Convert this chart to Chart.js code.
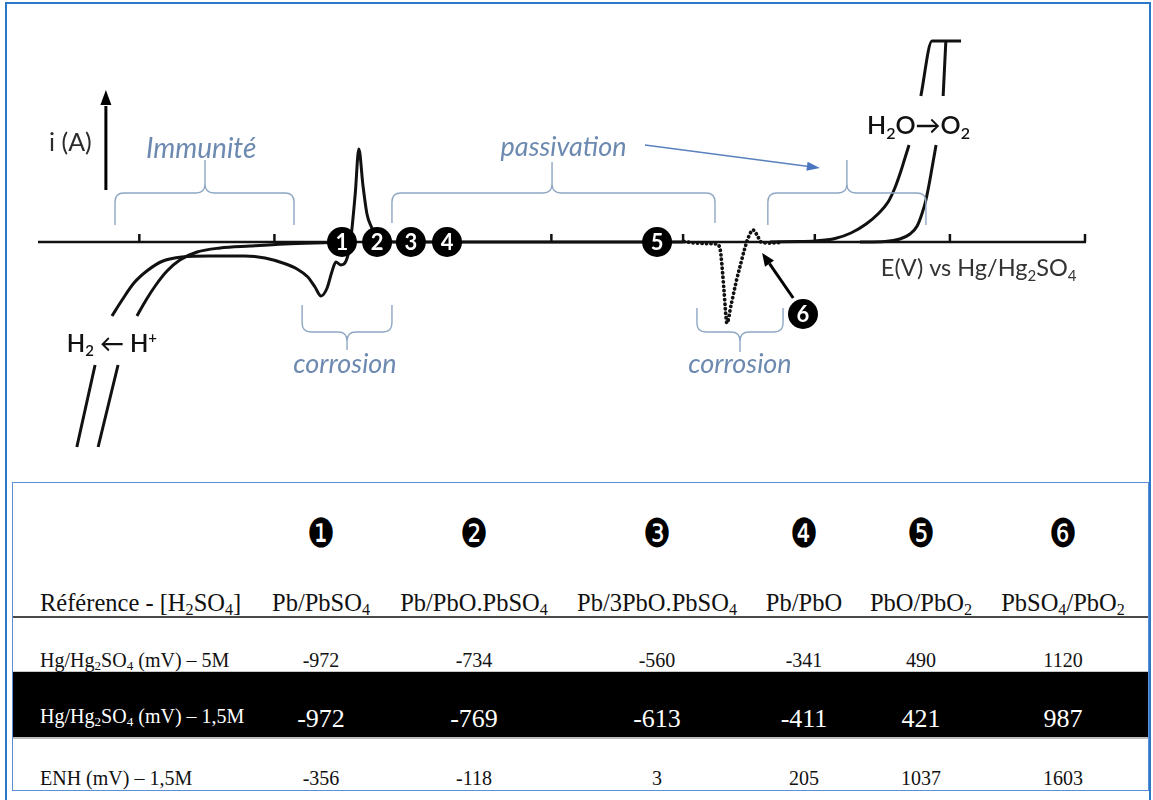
<!DOCTYPE html>
<html>
<head>
<meta charset="utf-8">
<script src="https://cdn.jsdelivr.net/npm/chart.js@4/dist/chart.umd.min.js"></script>
<style>
  html, body { margin: 0; padding: 0; background: #fff; }
  #page { position: relative; width: 1153px; height: 800px; overflow: hidden; background: #fff; }
  #frame { position: absolute; left: 5px; top: 2px; width: 1146px; height: 820px;
           border: 2px solid #2a78cc; box-sizing: border-box; }
  #plot { position: absolute; left: 0; top: 0; }
  #tbl { position: absolute; left: 12px; top: 482px; width: 1137px; height: 309px;
         border: 1.5px solid #5d8fd6; box-sizing: border-box; }
  .band { position: absolute; left: 13px; width: 1135px; }
  .txt { position: absolute; white-space: nowrap; line-height: 1;
         font-family: "Liberation Serif", "Times New Roman", serif; color: #111; }
  .txt sub { font-size: 0.66em; vertical-align: baseline; position: relative; top: 0.24em; }
  .mark { position: absolute; white-space: nowrap; line-height: 1; font-family: "DejaVu Sans", sans-serif;
          color: #000; transform: translate(-50%, -50%) scaleX(0.78); }
</style>
</head>
<body>
<div id="page">
  <div id="frame"></div>
  <canvas id="plot" width="1153" height="470"></canvas>
  <div id="tbl"></div>
</div>
<script>
// ---- Polarisation curve of lead in sulfuric acid (schematic), E in V, i in arbitrary units ----
// Cathodic branch, first scan: hydrogen evolution, plateau, PbSO4 reduction dip, oxidation peak
const hydrogenScanA = [
  [-1.385, -1.025], [-1.331, -0.615], null,
  [-1.281, -0.37], [-1.251, -0.29], [-1.216, -0.205], [-1.174, -0.14], [-1.130, -0.095],
  [-1.074, -0.075], [-0.991, -0.07], [-0.887, -0.07], [-0.828, -0.08], [-0.775, -0.105],
  [-0.733, -0.135], [-0.701, -0.175], [-0.680, -0.225], [-0.662, -0.27], [-0.644, -0.23],
  [-0.630, -0.15], [-0.618, -0.10], [-0.603, -0.115], [-0.588, -0.095], [-0.576, -0.015],
  [-0.561, 0.235], [-0.550, 0.465], [-0.538, 0.285], [-0.526, 0.14], [-0.514, 0.08],
  [-0.499, 0.03], [-0.479, 0.005], [-0.428, 0], [0.410, 0]
];
// Cathodic branch, second scan
const hydrogenScanB = [
  [-1.322, -1.025], [-1.263, -0.615], null,
  [-1.207, -0.37], [-1.180, -0.29], [-1.151, -0.215], [-1.118, -0.145], [-1.080, -0.09],
  [-1.029, -0.05], [-0.961, -0.03], [-0.872, -0.02], [-0.769, -0.01], [-0.635, -0.0025],
  [-0.591, 0]
];
// Corrosion region of the PbO2 layer (dotted)
const corrosionDip = [
  [0.413, 0.0025], [0.445, -0.005], [0.478, -0.0075], [0.508, -0.01], [0.519, -0.03],
  [0.525, -0.115], [0.531, -0.24], [0.540, -0.405], [0.552, -0.315], [0.567, -0.2],
  [0.582, -0.1], [0.593, -0.03], [0.605, 0.03], [0.617, 0.06], [0.629, 0.035],
  [0.641, 0], [0.667, -0.005], [0.697, -0.0025]
];
// Oxygen evolution, first and second scan
const oxygenScanA = [
  [0.667, 0], [0.756, 0.0025], [0.801, 0.005], [0.860, 0.0175], [0.907, 0.045],
  [0.952, 0.09], [0.987, 0.14], [1.017, 0.2], [1.037, 0.27], [1.055, 0.355],
  [1.067, 0.42], [1.079, 0.485], null, [1.114, 0.73], [1.147, 1.005], [1.233, 1.005]
];
const oxygenScanB = [
  [0.934, 0], [1.008, 0.0025], [1.052, 0.015], [1.082, 0.04], [1.103, 0.08],
  [1.117, 0.14], [1.129, 0.21], [1.138, 0.285], [1.147, 0.37], [1.159, 0.485],
  null, [1.180, 0.73], [1.188, 1.005]
];
// Potential ticks on the E axis (V)
const potentialTicks = [-1.2, -0.8, -0.4, 0.02, 0.41, 0.8, 1.2, 1.6];

// ---- Table of equilibrium potentials ----
const couples = ['Pb/PbSO4', 'Pb/PbO.PbSO4', 'Pb/3PbO.PbSO4', 'Pb/PbO', 'PbO/PbO2', 'PbSO4/PbO2'];
const pointMarks = ['\u2776', '\u2777', '\u2778', '\u2779', '\u277A', '\u277B'];
const rowLabels = ['Hg/Hg2SO4 (mV) \u2013 5M', 'Hg/Hg2SO4 (mV) \u2013 1,5M', 'ENH (mV) \u2013 1,5M'];
const hgSulfate5M = [-972, -734, -560, -341, 490, 1120];
const hgSulfate15M = [-972, -769, -613, -411, 421, 987];
const enh15M = [-356, -118, 3, 205, 1037, 1603];

// ---- Annotation geometry, in data units (E, i) ----
const ann = {
  currentArrow: { E: -1.299, from: 0.26, to: 0.76 },
  points: [
    { n: '1', E: -0.600, i: 0 }, { n: '2', E: -0.496, i: 0 }, { n: '3', E: -0.396, i: 0 },
    { n: '4', E: -0.289, i: 0 }, { n: '5', E: 0.333, i: 0 }, { n: '6', E: 0.765, i: -0.36 }
  ],
  point6Arrow: { E1: 0.736, i1: -0.28, E2: 0.644, i2: -0.055 },
  braces: [
    { E1: -1.272, E2: -0.742, Em: -1.0055, iEnd: 0.085, iLine: 0.245, iTip: 0.41 },
    { E1: -0.452, E2: 0.5045, Em: 0.022, iEnd: 0.095, iLine: 0.245, iTip: 0.40 },
    { E1: 0.661, E2: 1.129, Em: 0.895, iEnd: 0.085, iLine: 0.245, iTip: 0.41 },
    { E1: -0.718, E2: -0.452, Em: -0.585, iEnd: -0.315, iLine: -0.45, iTip: -0.54 },
    { E1: 0.451, E2: 0.706, Em: 0.5785, iEnd: -0.33, iLine: -0.45, iTip: -0.55 }
  ],
  passivationArrow: { E1: 0.297, i1: 0.485, E2: 0.815, i2: 0.37 },
  labels: [
    { parts: [{ t: 'i (A)' }], E: -1.404, i: 0.50, size: 25, color: '#2b2b2b' },
    { parts: [{ t: 'Immunit\u00e9' }], E: -1.017, i: 0.47, size: 28, italic: true, color: '#6c89b0' },
    { parts: [{ t: 'passivation' }], E: 0.056, i: 0.48, size: 27, italic: true, color: '#6c89b0' },
    { parts: [{ t: 'corrosion' }], E: -0.591, i: -0.605, size: 27, italic: true, color: '#6c89b0' },
    { parts: [{ t: 'corrosion' }], E: 0.5785, i: -0.605, size: 27, italic: true, color: '#6c89b0' },
    { parts: [{ t: 'H' }, { t: '2', s: 'sub' }, { t: ' \u2190 ' }, { t: 'H' }, { t: '+', s: 'sup' }],
      E: -1.281, i: -0.505, size: 24, weight: '600', color: '#111' },
    { parts: [{ t: 'H' }, { t: '2', s: 'sub' }, { t: 'O\u2192O' }, { t: '2', s: 'sub' }],
      E: 1.107, i: 0.585, size: 25, weight: '600', color: '#111' },
    { parts: [{ t: 'E(V) vs Hg/Hg' }, { t: '2', s: 'sub' }, { t: 'SO' }, { t: '4', s: 'sub' }],
      E: 1.285, i: -0.13, size: 23.5, color: '#333' }
  ]
};

const toXY = (pts) => pts.map((p, k) => p ? { x: p[0], y: p[1] } :
  { x: (pts[k - 1][0] + pts[k + 1][0]) / 2, y: null });

const FAMILY = 'Lato, "Open Sans", "DejaVu Sans", sans-serif';

function richText(ctx, lab, x, y) {
  const size = lab.size;
  const fontFor = (p) => `${lab.italic ? 'italic ' : ''}${lab.weight || '400'} ${p.s ? Math.round(size * 0.64) : size}px ${FAMILY}`;
  let w = 0;
  const widths = lab.parts.map(p => { ctx.font = fontFor(p); const m = ctx.measureText(p.t).width; w += m; return m; });
  let cx = x - w / 2;
  ctx.fillStyle = lab.color;
  ctx.textAlign = 'left';
  ctx.textBaseline = 'alphabetic';
  const base = y + size * 0.36;
  lab.parts.forEach((p, k) => {
    ctx.font = fontFor(p);
    const dy = p.s === 'sub' ? size * 0.2 : p.s === 'sup' ? -size * 0.38 : 0;
    ctx.fillText(p.t, cx, base + dy);
    cx += widths[k];
  });
}

function arrowHead(ctx, x1, y1, x2, y2, len, wid) {
  const a = Math.atan2(y2 - y1, x2 - x1);
  const bx = x2 - len * Math.cos(a), by = y2 - len * Math.sin(a);
  ctx.beginPath();
  ctx.moveTo(x2, y2);
  ctx.lineTo(bx + wid / 2 * Math.sin(a), by - wid / 2 * Math.cos(a));
  ctx.lineTo(bx - wid / 2 * Math.sin(a), by + wid / 2 * Math.cos(a));
  ctx.closePath();
  ctx.fill();
  return [bx, by];
}

function brace(ctx, x1, x2, xm, yEnd, yLine, yTip) {
  const d = Math.sign(yEnd - yLine);
  const r = 9;
  ctx.beginPath();
  ctx.moveTo(x1, yEnd);
  ctx.lineTo(x1, yLine + d * r);
  ctx.quadraticCurveTo(x1, yLine, x1 + r, yLine);
  ctx.lineTo(xm - r, yLine);
  ctx.quadraticCurveTo(xm, yLine, xm, yLine - d * r);
  ctx.lineTo(xm, yTip);
  ctx.moveTo(xm, yLine - d * r);
  ctx.quadraticCurveTo(xm, yLine, xm + r, yLine);
  ctx.lineTo(x2 - r, yLine);
  ctx.quadraticCurveTo(x2, yLine, x2, yLine + d * r);
  ctx.lineTo(x2, yEnd);
  ctx.stroke();
}

const axisPlugin = {
  id: 'potentialAxis',
  beforeDatasetsDraw(chart) {
    const { ctx, scales: { x, y } } = chart;
    const y0 = y.getPixelForValue(0);
    ctx.save();
    ctx.strokeStyle = '#111';
    ctx.lineWidth = 2.5;
    ctx.beginPath();
    ctx.moveTo(x.getPixelForValue(x.min), y0);
    ctx.lineTo(x.getPixelForValue(x.max) + 1, y0);
    ctx.stroke();
    potentialTicks.forEach(v => {
      const px = x.getPixelForValue(v);
      ctx.beginPath();
      ctx.moveTo(px, y0);
      ctx.lineTo(px, y0 - 8);
      ctx.stroke();
    });
    ctx.restore();
  },
  afterDatasetsDraw(chart) {
    const { ctx, scales: { x, y } } = chart;
    const X = (v) => x.getPixelForValue(v), Y = (v) => y.getPixelForValue(v);
    ctx.save();

    // current axis arrow
    const ca = ann.currentArrow;
    ctx.strokeStyle = '#000'; ctx.fillStyle = '#000'; ctx.lineWidth = 3;
    const [hx, hy] = arrowHead(ctx, X(ca.E), Y(ca.from), X(ca.E), Y(ca.to), 15, 11);
    ctx.beginPath(); ctx.moveTo(X(ca.E), Y(ca.from)); ctx.lineTo(hx, hy + 1); ctx.stroke();

    // domain braces
    ctx.strokeStyle = '#8ea7c3'; ctx.lineWidth = 1.4;
    ann.braces.forEach(b => brace(ctx, X(b.E1), X(b.E2), X(b.Em), Y(b.iEnd), Y(b.iLine), Y(b.iTip)));

    // passivation pointer
    const pa = ann.passivationArrow;
    ctx.strokeStyle = '#5a80bd'; ctx.fillStyle = '#4a76bf'; ctx.lineWidth = 1.6;
    const [bx, by] = arrowHead(ctx, X(pa.E1), Y(pa.i1), X(pa.E2), Y(pa.i2), 13, 9);
    ctx.beginPath(); ctx.moveTo(X(pa.E1), Y(pa.i1)); ctx.lineTo(bx, by); ctx.stroke();

    // arrow from point 6 to the curve
    const a6 = ann.point6Arrow;
    ctx.strokeStyle = '#000'; ctx.fillStyle = '#000'; ctx.lineWidth = 3;
    const [cx6, cy6] = arrowHead(ctx, X(a6.E1), Y(a6.i1), X(a6.E2), Y(a6.i2), 13, 11);
    ctx.beginPath(); ctx.moveTo(X(a6.E1), Y(a6.i1)); ctx.lineTo(cx6, cy6); ctx.stroke();

    // numbered points
    ann.points.forEach(p => {
      const px = X(p.E), py = Y(p.i);
      ctx.fillStyle = '#000';
      ctx.beginPath(); ctx.arc(px, py, 15, 0, Math.PI * 2); ctx.fill();
      ctx.fillStyle = '#fff';
      ctx.font = `700 22px ${FAMILY}`;
      ctx.textAlign = 'center'; ctx.textBaseline = 'middle';
      ctx.fillText(p.n, px, py + 1);
    });

    // labels
    ann.labels.forEach(l => richText(ctx, l, X(l.E), Y(l.i)));
    ctx.restore();
  }
};

const curve = (data, extra) => Object.assign({
  data: toXY(data), borderColor: '#111', borderWidth: 3, pointRadius: 0,
  cubicInterpolationMode: 'monotone', fill: false, spanGaps: false
}, extra || {});

new Chart(document.getElementById('plot'), {
  type: 'line',
  data: {
    datasets: [
      curve(hydrogenScanA),
      curve(hydrogenScanB),
      curve(corrosionDip, { borderDash: [0.1, 4.4], borderCapStyle: 'round', borderWidth: 3.8 }),
      curve(oxygenScanA),
      curve(oxygenScanB)
    ]
  },
  options: {
    responsive: false,
    animation: false,
    devicePixelRatio: 1,
    layout: { padding: { left: 38, right: 68, top: 22, bottom: 8 } },
    scales: {
      x: { type: 'linear', min: -1.5, max: 1.6, display: false },
      y: { type: 'linear', min: -1.1, max: 1.1, display: false }
    },
    plugins: { legend: { display: false }, tooltip: { enabled: false } }
  },
  plugins: [axisPlugin]
});

// ---- build the table ----
const page = document.getElementById('page');
const colCenters = [321, 474, 657, 804, 921, 1063];
const fmt = (s) => String(s).replace(/([A-Za-z])(\d)/g, '$1<sub>$2</sub>');
function addText(html, x, baseline, size, opts) {
  const d = document.createElement('div');
  d.className = 'txt';
  d.innerHTML = html;
  d.style.fontSize = size + 'px';
  d.style.top = (baseline - 0.8375 * size) + 'px';
  d.style.left = x + 'px';
  if (!opts || opts.center !== false) d.style.transform = 'translateX(-50%)';
  if (opts && opts.color) d.style.color = opts.color;
  page.appendChild(d);
}
function addBand(top, height, color) {
  const b = document.createElement('div');
  b.className = 'band';
  b.style.top = top + 'px'; b.style.height = height + 'px'; b.style.background = color;
  page.appendChild(b);
}
addBand(616, 2, '#4a4a4a');
addBand(671, 2, '#c8c8c8');
addBand(672, 65, '#000');
addBand(737, 1.5, '#bdbdbd');

pointMarks.forEach((m, k) => {
  const d = document.createElement('div');
  d.className = 'mark';
  d.textContent = m;
  d.style.fontSize = '40px';
  d.style.left = colCenters[k] + 'px';
  d.style.top = '533px';
  page.appendChild(d);
});
addText(fmt('R\u00e9f\u00e9rence - [H2SO4]'), 40, 612, 24.5, { center: false });
couples.forEach((c, k) => addText(fmt(c), colCenters[k], 612, 24.5));

addText(fmt(rowLabels[0]), 40, 667, 20, { center: false });
hgSulfate5M.forEach((v, k) => addText(String(v), colCenters[k], 667, 20));
addText(fmt(rowLabels[1]), 40, 723, 20, { center: false, color: '#fff' });
hgSulfate15M.forEach((v, k) => addText(String(v), colCenters[k], 728, 26, { color: '#fff' }));
addText(fmt(rowLabels[2]), 40, 785, 20, { center: false });
enh15M.forEach((v, k) => addText(String(v), colCenters[k], 785, 20));
</script>
</body>
</html>
